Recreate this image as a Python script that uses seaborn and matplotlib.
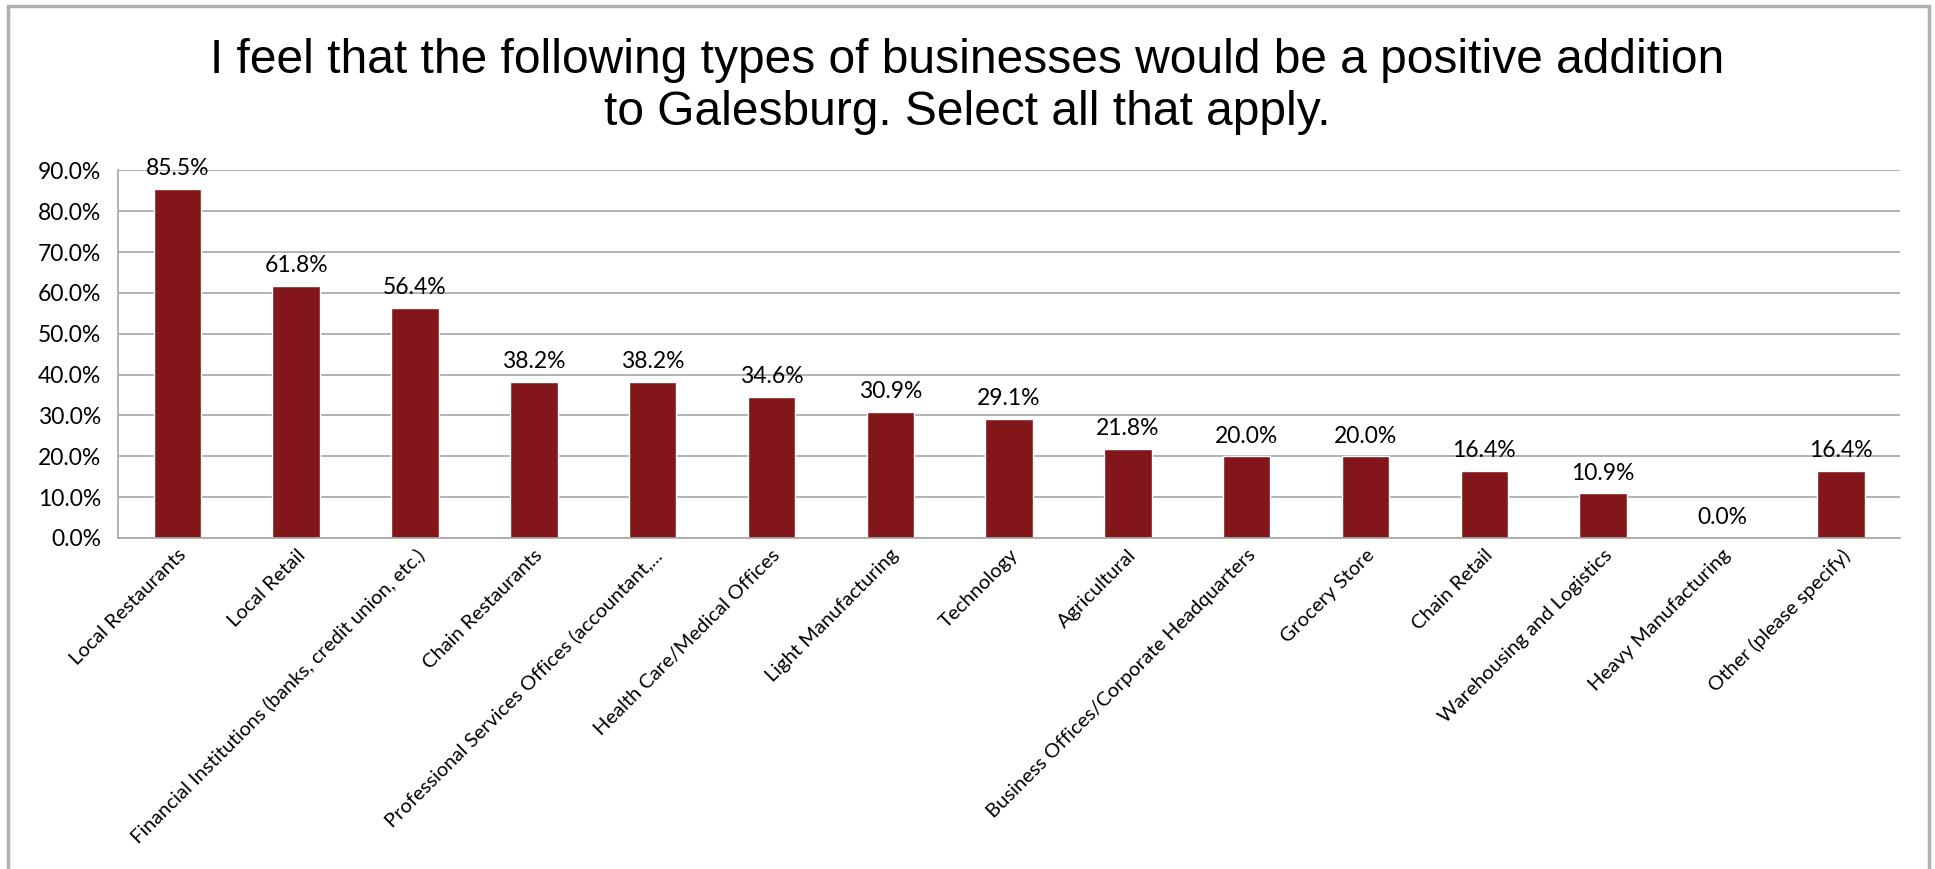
import matplotlib
matplotlib.use("Agg")
import matplotlib.pyplot as plt
import matplotlib.ticker as mticker
from matplotlib.patches import Rectangle
import pandas as pd
import seaborn as sns

categories = [
    "Local Restaurants",
    "Local Retail",
    "Financial Institutions (banks, credit union, etc.)",
    "Chain Restaurants",
    "Professional Services Offices (accountant,...",
    "Health Care/Medical Offices",
    "Light Manufacturing",
    "Technology",
    "Agricultural",
    "Business Offices/Corporate Headquarters",
    "Grocery Store",
    "Chain Retail",
    "Warehousing and Logistics",
    "Heavy Manufacturing",
    "Other (please specify)",
]
percent = [85.5, 61.8, 56.4, 38.2, 38.2, 34.6, 30.9, 29.1, 21.8, 20.0, 20.0, 16.4, 10.9, 0.0, 16.4]

title = "I feel that the following types of businesses would be a positive addition\nto Galesburg. Select all that apply."

df = pd.DataFrame({"Business": categories, "Percent": percent})

sns.set_style("white")
plt.rcParams["font.family"] = ["Lato", "DejaVu Sans"]

fig = plt.figure(figsize=(19.35, 8.69), dpi=100)
ax = fig.add_axes([0.061, 0.381, 0.921, 0.423])

sns.barplot(data=df, x="Business", y="Percent", color="#82161a",
            width=0.4, ax=ax, saturation=1)

# etykiety nad słupkami
for i, v in enumerate(percent):
    ax.annotate(f"{v:.1f}%", (i, v), xytext=(0, 7), textcoords="offset points",
                ha="center", va="bottom", fontsize=16.5, color="black",
                annotation_clip=False)

ax.set_ylim(0, 90)
ax.set_xlim(-0.5, len(categories) - 0.5)
ax.yaxis.set_major_locator(mticker.MultipleLocator(10))
ax.yaxis.set_major_formatter(mticker.FuncFormatter(lambda v, p: f"{v:.1f}%"))
ax.grid(axis="y", color="#a6a6a6", linewidth=1.2)
ax.set_axisbelow(True)

ax.set_xlabel("")
ax.set_ylabel("")
ax.set_xticks(range(len(categories)))
ax.set_xticklabels(categories, rotation=45, ha="right", rotation_mode="anchor",
                   fontsize=14.5)
ax.tick_params(axis="x", length=0, pad=6, labelcolor="black")
ax.set_xticks([i - 0.5 for i in range(len(categories) + 1)], minor=True)
ax.tick_params(axis="x", which="minor", length=6, color="#a6a6a6", width=1.2)
ax.tick_params(axis="y", length=8, color="#a6a6a6", width=1.2, labelsize=16.5,
               pad=4, labelcolor="black")

for side in ["top", "right"]:
    ax.spines[side].set_visible(False)
for side in ["left", "bottom"]:
    ax.spines[side].set_color("#a6a6a6")
    ax.spines[side].set_linewidth(1.2)

fig.text(0.5, 0.9, title, ha="center", va="center", fontsize=34.5, color="black",
         family=["Liberation Sans", "DejaVu Sans"], linespacing=1.2)

# ramka wykresu
fig.patches.append(Rectangle((0.004, -0.01), 0.993, 1.003, transform=fig.transFigure,
                             fill=False, edgecolor="#b0b0b0", linewidth=2.5))

fig.savefig("out.png", dpi=100)
